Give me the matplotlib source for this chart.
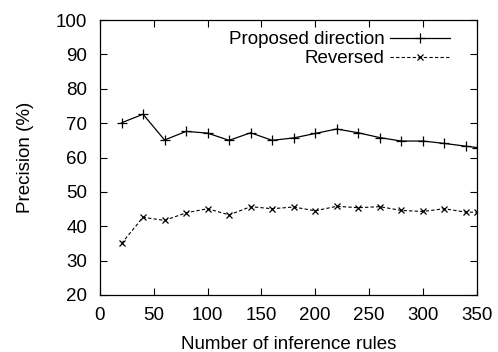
import matplotlib
matplotlib.use("Agg")
import matplotlib.pyplot as plt

rules = [20, 40, 60, 80, 100, 120, 140, 160, 180, 200, 220, 240, 260, 280, 300, 320, 340, 350]
proposed = [70.1, 72.6, 65.1, 67.6, 67.1, 65.0, 67.2, 65.0, 65.7, 67.0, 68.3, 67.2, 65.8, 64.8, 64.8, 64.1, 63.3, 62.9]
reversed_ = [35.0, 42.6, 41.7, 43.9, 45.1, 43.3, 45.7, 45.1, 45.6, 44.5, 45.8, 45.4, 45.7, 44.6, 44.3, 45.1, 44.1, 44.1]

plt.rcParams["font.family"] = ["Liberation Sans", "DejaVu Sans"]
plt.rcParams["font.size"] = 13.5

fig = plt.figure(figsize=(4.98, 3.52), dpi=100)
ax = fig.add_axes([0.2008, 0.162, 0.7562, 0.781])

ax.plot(rules, proposed, color="black", lw=0.9, marker="+", ms=7, mew=0.9,
        label="Proposed direction")
ax.plot(rules, reversed_, color="black", lw=0.8, ls=(0, (3, 2)), marker="x", ms=5,
        mew=0.9, label="Reversed")

ax.set_xlim(0, 350)
ax.set_ylim(20, 100)
ax.set_xticks(range(0, 351, 50))
ax.set_yticks(range(20, 101, 10))
ax.tick_params(direction="in", top=True, right=True, length=5, width=0.8, pad=9)
for s in ax.spines.values():
    s.set_linewidth(0.9)

ax.set_xlabel("Number of inference rules", labelpad=8)
ax.set_ylabel("Precision (%)", labelpad=16)

ax.legend(loc="upper right", frameon=False, markerfirst=False, handlelength=3.2,
          handletextpad=0.3, labelspacing=0.1, borderaxespad=0.2,
          bbox_to_anchor=(0.96, 1.0))

fig.savefig("out.png", dpi=100)
